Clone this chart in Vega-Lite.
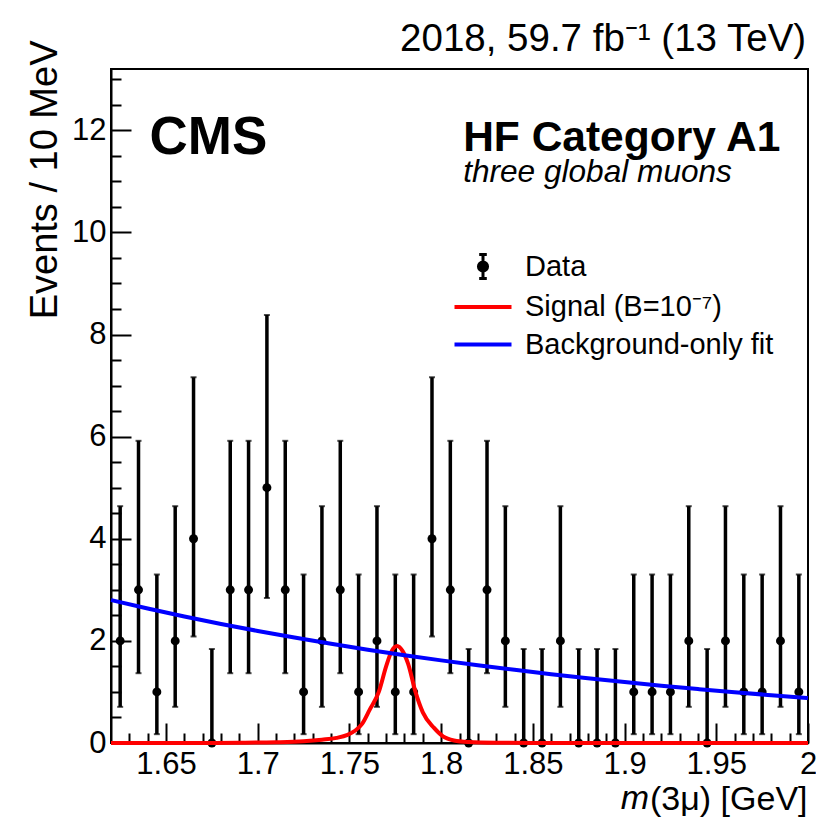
{
  "$schema": "https://vega.github.io/schema/vega-lite/v6.json",
  "width": 697,
  "height": 674,
  "autosize": {"type": "none"},
  "padding": {"left": 111, "top": 69, "right": 8, "bottom": 86},
  "background": "white",
  "config": {
    "font": "Liberation Sans",
    "view": {"stroke": "black", "strokeWidth": 2},
    "axis": {"domainColor": "black", "tickColor": "black", "labelColor": "black", "titleColor": "black", "grid": false, "labelFont": "Liberation Sans", "titleFont": "Liberation Sans"}
  },
  "datasets": {
    "hist": [
      {"m": 1.625, "n": 2, "lo": 0.708, "hi": 4.638},
      {"m": 1.635, "n": 3, "lo": 1.367, "hi": 5.918},
      {"m": 1.645, "n": 1, "lo": 0.173, "hi": 3.300},
      {"m": 1.655, "n": 2, "lo": 0.708, "hi": 4.638},
      {"m": 1.665, "n": 4, "lo": 2.086, "hi": 7.163},
      {"m": 1.675, "n": 0, "lo": 0, "hi": 1.841},
      {"m": 1.685, "n": 3, "lo": 1.367, "hi": 5.918},
      {"m": 1.695, "n": 3, "lo": 1.367, "hi": 5.918},
      {"m": 1.705, "n": 5, "lo": 2.840, "hi": 8.382},
      {"m": 1.715, "n": 3, "lo": 1.367, "hi": 5.918},
      {"m": 1.725, "n": 1, "lo": 0.173, "hi": 3.300},
      {"m": 1.735, "n": 2, "lo": 0.708, "hi": 4.638},
      {"m": 1.745, "n": 3, "lo": 1.367, "hi": 5.918},
      {"m": 1.755, "n": 1, "lo": 0.173, "hi": 3.300},
      {"m": 1.765, "n": 2, "lo": 0.708, "hi": 4.638},
      {"m": 1.775, "n": 1, "lo": 0.173, "hi": 3.300},
      {"m": 1.785, "n": 1, "lo": 0.173, "hi": 3.300},
      {"m": 1.795, "n": 4, "lo": 2.086, "hi": 7.163},
      {"m": 1.805, "n": 3, "lo": 1.367, "hi": 5.918},
      {"m": 1.815, "n": 0, "lo": 0, "hi": 1.841},
      {"m": 1.825, "n": 3, "lo": 1.367, "hi": 5.918},
      {"m": 1.835, "n": 2, "lo": 0.708, "hi": 4.638},
      {"m": 1.845, "n": 0, "lo": 0, "hi": 1.841},
      {"m": 1.855, "n": 0, "lo": 0, "hi": 1.841},
      {"m": 1.865, "n": 2, "lo": 0.708, "hi": 4.638},
      {"m": 1.875, "n": 0, "lo": 0, "hi": 1.841},
      {"m": 1.885, "n": 0, "lo": 0, "hi": 1.841},
      {"m": 1.895, "n": 0, "lo": 0, "hi": 1.841},
      {"m": 1.905, "n": 1, "lo": 0.173, "hi": 3.300},
      {"m": 1.915, "n": 1, "lo": 0.173, "hi": 3.300},
      {"m": 1.925, "n": 1, "lo": 0.173, "hi": 3.300},
      {"m": 1.935, "n": 2, "lo": 0.708, "hi": 4.638},
      {"m": 1.945, "n": 0, "lo": 0, "hi": 1.841},
      {"m": 1.955, "n": 2, "lo": 0.708, "hi": 4.638},
      {"m": 1.965, "n": 1, "lo": 0.173, "hi": 3.300},
      {"m": 1.975, "n": 1, "lo": 0.173, "hi": 3.300},
      {"m": 1.985, "n": 2, "lo": 0.708, "hi": 4.638},
      {"m": 1.995, "n": 1, "lo": 0.173, "hi": 3.300}
    ],
    "curves": [
      {"series": "Signal (B=10⁻⁷)", "m": 1.62, "y": 0},
      {"series": "Signal (B=10⁻⁷)", "m": 1.66, "y": 0},
      {"series": "Signal (B=10⁻⁷)", "m": 1.69, "y": 0.005},
      {"series": "Signal (B=10⁻⁷)", "m": 1.71, "y": 0.015},
      {"series": "Signal (B=10⁻⁷)", "m": 1.725, "y": 0.035},
      {"series": "Signal (B=10⁻⁷)", "m": 1.735, "y": 0.065},
      {"series": "Signal (B=10⁻⁷)", "m": 1.743, "y": 0.1},
      {"series": "Signal (B=10⁻⁷)", "m": 1.749, "y": 0.16},
      {"series": "Signal (B=10⁻⁷)", "m": 1.753, "y": 0.24},
      {"series": "Signal (B=10⁻⁷)", "m": 1.757, "y": 0.38},
      {"series": "Signal (B=10⁻⁷)", "m": 1.761, "y": 0.65},
      {"series": "Signal (B=10⁻⁷)", "m": 1.766, "y": 1.0},
      {"series": "Signal (B=10⁻⁷)", "m": 1.77, "y": 1.5},
      {"series": "Signal (B=10⁻⁷)", "m": 1.773, "y": 1.8},
      {"series": "Signal (B=10⁻⁷)", "m": 1.776, "y": 1.9},
      {"series": "Signal (B=10⁻⁷)", "m": 1.779, "y": 1.8},
      {"series": "Signal (B=10⁻⁷)", "m": 1.782, "y": 1.55},
      {"series": "Signal (B=10⁻⁷)", "m": 1.786, "y": 1.0},
      {"series": "Signal (B=10⁻⁷)", "m": 1.79, "y": 0.6},
      {"series": "Signal (B=10⁻⁷)", "m": 1.796, "y": 0.3},
      {"series": "Signal (B=10⁻⁷)", "m": 1.801, "y": 0.13},
      {"series": "Signal (B=10⁻⁷)", "m": 1.807, "y": 0.05},
      {"series": "Signal (B=10⁻⁷)", "m": 1.815, "y": 0.02},
      {"series": "Signal (B=10⁻⁷)", "m": 1.83, "y": 0.005},
      {"series": "Signal (B=10⁻⁷)", "m": 1.85, "y": 0},
      {"series": "Signal (B=10⁻⁷)", "m": 2.0, "y": 0},
      {"series": "Background-only fit", "m": 1.62, "y": 2.8},
      {"series": "Background-only fit", "m": 1.64, "y": 2.634},
      {"series": "Background-only fit", "m": 1.66, "y": 2.479},
      {"series": "Background-only fit", "m": 1.68, "y": 2.332},
      {"series": "Background-only fit", "m": 1.70, "y": 2.195},
      {"series": "Background-only fit", "m": 1.72, "y": 2.065},
      {"series": "Background-only fit", "m": 1.74, "y": 1.943},
      {"series": "Background-only fit", "m": 1.76, "y": 1.828},
      {"series": "Background-only fit", "m": 1.78, "y": 1.72},
      {"series": "Background-only fit", "m": 1.80, "y": 1.618},
      {"series": "Background-only fit", "m": 1.82, "y": 1.523},
      {"series": "Background-only fit", "m": 1.84, "y": 1.433},
      {"series": "Background-only fit", "m": 1.86, "y": 1.348},
      {"series": "Background-only fit", "m": 1.88, "y": 1.269},
      {"series": "Background-only fit", "m": 1.90, "y": 1.194},
      {"series": "Background-only fit", "m": 1.92, "y": 1.123},
      {"series": "Background-only fit", "m": 1.94, "y": 1.057},
      {"series": "Background-only fit", "m": 1.96, "y": 0.994},
      {"series": "Background-only fit", "m": 1.98, "y": 0.936},
      {"series": "Background-only fit", "m": 2.0, "y": 0.88}
    ]
  },
  "layer": [
    {
      "data": {"name": "hist"},
      "mark": {"type": "rule", "strokeWidth": 3.5, "color": "black"},
      "encoding": {
        "x": {"field": "m", "type": "quantitative", "scale": {"domain": [1.62, 2.0], "nice": false, "zero": false},
          "axis": {"orient": "bottom", "values": [1.65, 1.7, 1.75, 1.8, 1.85, 1.9, 1.95, 2.0], "format": "~g", "tickSize": -20, "tickWidth": 2, "domainWidth": 2, "labelFontSize": 31, "labelPadding": 26, "labelFlush": false, "labelOverlap": false, "title": "(3μ) [GeV]", "titleFontSize": 34, "titleFontWeight": "normal", "titleAnchor": "end", "titleAlign": "right", "titleBaseline": "alphabetic", "titleX": 696, "titleY": 66}},
        "y": {"field": "lo", "type": "quantitative", "scale": {"domain": [0, 13.2], "nice": false, "zero": false},
          "axis": {"orient": "left", "values": [0, 2, 4, 6, 8, 10, 12], "tickSize": -20, "tickWidth": 2, "domainWidth": 2, "labelFontSize": 31, "labelPadding": 25, "labelFlush": false, "labelOverlap": false, "title": "Events / 10 MeV", "titleFontSize": 38, "titleFontWeight": "normal", "titleAngle": -90, "titleAlign": "right", "titleBaseline": "alphabetic", "titleX": -55, "titleY": -29}},
        "y2": {"field": "hi"}
      }
    },
    {
      "data": {"name": "hist"},
      "mark": {"type": "tick", "orient": "horizontal", "size": 6, "thickness": 2, "color": "black"},
      "encoding": {
        "x": {"field": "m", "type": "quantitative",
          "axis": {"orient": "bottom", "values": [1.63, 1.64, 1.66, 1.67, 1.68, 1.69, 1.71, 1.72, 1.73, 1.74, 1.76, 1.77, 1.78, 1.79, 1.81, 1.82, 1.83, 1.84, 1.86, 1.87, 1.88, 1.89, 1.91, 1.92, 1.93, 1.94, 1.96, 1.97, 1.98, 1.99], "tickSize": -10, "tickWidth": 2, "labels": false, "domain": false, "title": null}},
        "y": {"field": "hi", "type": "quantitative",
          "axis": {"orient": "left", "values": [0.5, 1, 1.5, 2.5, 3, 3.5, 4.5, 5, 5.5, 6.5, 7, 7.5, 8.5, 9, 9.5, 10.5, 11, 11.5, 12.5, 13], "tickSize": -10, "tickWidth": 2, "labels": false, "domain": false, "title": null}}
      }
    },
    {
      "data": {"name": "hist"},
      "mark": {"type": "tick", "orient": "horizontal", "size": 6, "thickness": 2, "color": "black"},
      "encoding": {
        "x": {"field": "m", "type": "quantitative", "axis": null},
        "y": {"field": "lo", "type": "quantitative", "axis": null}
      }
    },
    {
      "data": {"name": "hist"},
      "mark": {"type": "point", "shape": "circle", "filled": true, "size": 80, "color": "black", "opacity": 1},
      "encoding": {
        "x": {"field": "m", "type": "quantitative", "axis": null},
        "y": {"field": "n", "type": "quantitative", "axis": null}
      }
    },
    {
      "data": {"name": "curves"},
      "mark": {"type": "line", "strokeWidth": 4, "interpolate": "monotone"},
      "encoding": {
        "x": {"field": "m", "type": "quantitative", "axis": null},
        "y": {"field": "y", "type": "quantitative", "axis": null},
        "color": {"field": "series", "type": "nominal",
          "scale": {"domain": ["Data", "Signal (B=10⁻⁷)", "Background-only fit"], "range": ["#000000", "#ff0000", "#0000ff"]},
          "legend": {"orient": "none", "legendX": 357.5, "legendY": 183, "title": null, "padding": 0, "symbolSize": 1444, "symbolStrokeWidth": 4, "symbolType": "stroke", "labelFontSize": 29, "labelFont": "Liberation Sans", "labelColor": "black", "labelOffset": 27.5, "rowPadding": 7.5, "labelLimit": 0,
            "encode": {"symbols": {"update": {
              "shape": {"signal": "datum.value === 'Data' ? 'M0,-0.63V0.63M-0.2,-0.63H0.2M-0.2,0.63H0.2M0.24,0A0.24,0.24,0,1,1,-0.24,0A0.24,0.24,0,1,1,0.24,0Z' : 'M-1.5,0H1.5'"},
              "strokeWidth": {"signal": "datum.value === 'Data' ? 3 : 4"},
              "fill": {"value": "black"}
            }}}}
        }
      }
    },
    {
      "data": {"values": [{}]},
      "mark": {"type": "text", "text": "2018, 59.7 fb⁻¹ (13 TeV)", "font": "Liberation Sans", "fontSize": 38.5, "align": "right", "baseline": "alphabetic", "color": "black"},
      "encoding": {
        "x": {"datum": 1.999, "type": "quantitative", "axis": null},
        "y": {"datum": 13.56, "type": "quantitative", "axis": null}
      }
    },
    {
      "data": {"values": [{}]},
      "mark": {"type": "text", "text": "CMS", "font": "Liberation Sans", "fontWeight": "bold", "fontSize": 53, "align": "left", "baseline": "alphabetic", "color": "black"},
      "encoding": {
        "x": {"datum": 1.641, "type": "quantitative", "axis": null},
        "y": {"datum": 11.53, "type": "quantitative", "axis": null}
      }
    },
    {
      "data": {"values": [{}]},
      "mark": {"type": "text", "text": "HF Category A1", "font": "Liberation Sans", "fontWeight": "bold", "fontSize": 42.5, "align": "left", "baseline": "alphabetic", "color": "black"},
      "encoding": {
        "x": {"datum": 1.812, "type": "quantitative", "axis": null},
        "y": {"datum": 11.585, "type": "quantitative", "axis": null}
      }
    },
    {
      "data": {"values": [{}]},
      "mark": {"type": "text", "text": "three global muons", "font": "Liberation Sans", "fontStyle": "italic", "fontSize": 31.6, "align": "left", "baseline": "alphabetic", "color": "black"},
      "encoding": {
        "x": {"datum": 1.812, "type": "quantitative", "axis": null},
        "y": {"datum": 10.98, "type": "quantitative", "axis": null}
      }
    },
    {
      "data": {"values": [{}]},
      "mark": {"type": "text", "text": "m", "font": "Liberation Sans", "fontStyle": "italic", "fontSize": 34, "align": "right", "baseline": "alphabetic", "color": "black"},
      "encoding": {
        "x": {"datum": 1.9133, "type": "quantitative", "axis": null},
        "y": {"datum": -1.29, "type": "quantitative", "axis": null}
      }
    }
  ],
  "resolve": {"axis": {"x": "independent", "y": "independent"}}
}
